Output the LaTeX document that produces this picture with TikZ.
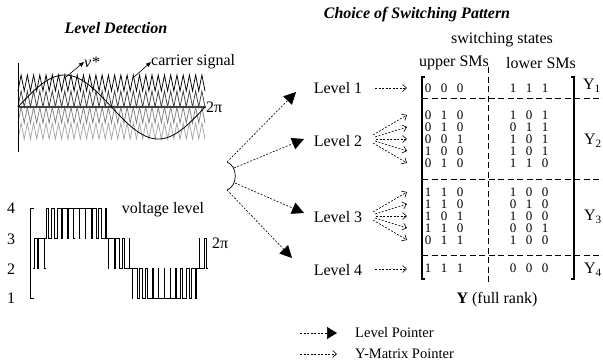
\documentclass[tikz,border=0pt]{standalone}
\usepackage{fontspec}
\setmainfont{Liberation Serif}
\usetikzlibrary{arrows.meta}
\begin{document}
\begin{tikzpicture}[x=1pt,y=-1pt,
  lbl/.style={font=\fontsize{16}{18}\selectfont, inner sep=0pt},
  ttl/.style={font=\fontsize{16}{18}\selectfont\bfseries\itshape, inner sep=0pt},
  leg/.style={font=\fontsize{14.5}{16}\selectfont, inner sep=0pt, anchor=west},
  dig/.style={font=\fontsize{13}{14}\selectfont, inner sep=0pt},
  lvlptr/.style={dash pattern=on 2pt off 1.5pt, line width=0.6pt, -{Triangle[length=12pt,width=12pt]}},
  ymptr/.style={dash pattern=on 2pt off 1.5pt, line width=0.6pt, -{Straight Barb[length=4pt,width=7pt]}},
  mdash/.style={dash pattern=on 6pt off 3.5pt, line width=1pt},
  brk/.style={line width=1.3pt},
  wave/.style={line width=0.9pt, line join=miter},
  carrier/.style={line width=0.75pt},
  small arrow/.style={line width=0.6pt, -{Triangle[length=5pt,width=4pt]}}
]
\useasboundingbox (0,0) rectangle (603,364);

% ---------- titles ----------
\node[ttl] (t1) at (116,28) {Level Detection};
\node[ttl] (t2) at (417,15) {Choice of Switching Pattern};

% ---------- top waveform: carriers ----------
\draw[carrier, black] (18,91) \foreach \i in {1,...,30}{ -- ++(3.1167,-16) -- ++(3.1167,16)};
\draw[carrier, black!75] (18,107) \foreach \i in {1,...,30}{ -- ++(3.1167,-16) -- ++(3.1167,16)};
\draw[carrier, black!50] (18,123) \foreach \i in {1,...,30}{ -- ++(3.1167,-16) -- ++(3.1167,16)};
\draw[carrier, black!35] (18,139) \foreach \i in {1,...,30}{ -- ++(3.1167,-16) -- ++(3.1167,16)};
% axes
\coordinate (vaxT) at (18,63);
\coordinate (vaxB) at (18,152);
\draw[line width=1pt] (vaxT) -- (vaxB);
\coordinate (haxL) at (18,107);
\node[lbl, anchor=west] (tpi) at (206,107) {2π};
\draw[black!75, line width=1.3pt] (haxL) -- (tpi.west);
% sine
\draw[line width=0.8pt] plot[domain=0:360, samples=120] ({18+\x/360*187},{107-32*sin(\x)});
% annotations
\node[lbl, anchor=west] (vstar) at (84,62) {\textit{v*}};
\coordinate (vsA) at (66,77);
\draw[small arrow] (vsA) -- (vstar.west);
\node[lbl, anchor=west] (carr) at (151,62) {carrier signal};
\coordinate (csA) at (134,77);
\draw[small arrow] (csA) -- (carr.west);

% ---------- bottom waveform ----------
\node[lbl] (n4) at (11,208) {4};
\node[lbl] (n3) at (11,239) {3};
\node[lbl] (n2) at (11,269) {2};
\node[lbl] (n1) at (11,298) {1};
\coordinate (bkT) at (30,208);
\coordinate (bkB) at (30,298);
\draw[line width=1pt] ([xshift=4pt]bkT) -- (bkT) -- (bkB) -- ([xshift=4pt]bkB);
\foreach \k in {0,...,29}{
  \pgfmathsetmacro\rv{2.5+1.5*sin(12*(\k+0.5))}
  \pgfmathtruncatemacro\lv{min(floor(\rv),3)}
  \pgfmathsetmacro\rvp{2.5+1.5*sin(12*(\k-0.5))}
  \pgfmathtruncatemacro\lvp{\k==0 ? \lv : min(floor(\rvp),3)}
  \pgfmathsetmacro\pw{(\rv-\lv)*5.8333}
  \pgfmathsetmacro\xa{33+\k*5.8333}
  \pgfmathsetmacro\xc{\xa+2.91667}
  \pgfmathsetmacro\yl{298-30*(\lv-1)}
  \pgfmathsetmacro\yh{\yl-30}
  \pgfmathsetmacro\yp{298-30*(\lvp-1)}
  \draw[wave] (\xa,\yp) -- (\xa,\yl) -- ({\xc-\pw/2},\yl) -- ({\xc-\pw/2},\yh)
     -- ({\xc+\pw/2},\yh) -- ({\xc+\pw/2},\yl) -- ({\xa+5.8333},\yl);
}
\node[lbl] (vl) at (163,210) {voltage level};
\node[lbl, anchor=west] (tpi2) at (212,243) {2π};

% ---------- level pointers ----------
\coordinate (a1) at (227,162);
\coordinate (a2) at (234,168);
\coordinate (a3) at (235,183);
\coordinate (a4) at (227,190);
\draw[line width=0.7pt] (a1) .. controls (238,166) and (238,186) .. (a4);
\coordinate (e1) at (296,92);
\coordinate (e2) at (304,139);
\coordinate (e3) at (304,213);
\coordinate (e4) at (292,258);
\draw[lvlptr] (a1) -- (e1);
\draw[lvlptr] (a2) -- (e2);
\draw[lvlptr] (a3) -- (e3);
\draw[lvlptr] (a4) -- (e4);

\node[lbl] (lv1) at (338,88) {Level 1};
\node[lbl] (lv2) at (338,141) {Level 2};
\node[lbl] (lv3) at (338,217) {Level 3};
\node[lbl] (lv4) at (338,270) {Level 4};

% ---------- Y-matrix pointers ----------
\coordinate (s1) at (375,88);  \coordinate (f1) at (407,88);
\draw[ymptr] (s1) -- (f1);
\coordinate (s4) at (375,269); \coordinate (f4) at (407,269);
\draw[ymptr] (s4) -- (f4);
\foreach \yy/\off/\dx in {-24/-4/0,-12/-2/2,0/0/3,12/2/2,24/4/0}{
  \draw[ymptr] ({373+\dx},{139+\off}) -- (407,{139+\yy});
  \draw[ymptr] ({373+\dx},{216+\off}) -- (407,{216+\yy});
}

% ---------- matrix ----------
\node[lbl] (ss) at (502,40) {switching states};
\node[lbl] (up) at (454,63) {upper SMs};
\node[lbl] (lo) at (541,63) {lower SMs};
\coordinate (lbT) at (422,77); \coordinate (lbB) at (422,279);
\coordinate (rbT) at (574,77); \coordinate (rbB) at (574,279);
\draw[brk] ([xshift=3pt]lbT) -- (lbT) -- (lbB) -- ([xshift=3pt]lbB);
\draw[brk] ([xshift=-3pt]rbT) -- (rbT) -- (rbB) -- ([xshift=-3pt]rbB);
\coordinate (vdT) at (488,67); \coordinate (vdB) at (488,284);
\draw[mdash] (vdT) -- (vdB);
\foreach \yy in {98,179,255}{
  \draw[mdash] (422,\yy) -- (603,\yy);
}
\foreach \yy/\da/\db/\dc/\dd/\de/\df in {88/0/0/0/1/1/1,
  115/0/1/0/1/0/1, 127/0/1/0/0/1/1, 139/0/0/1/1/0/1, 151/1/0/0/1/0/1, 163/0/1/0/1/1/0,
  192/1/1/0/1/0/0, 204/1/1/0/0/1/0, 216/1/0/1/1/0/0, 228/1/1/0/0/0/1, 240/0/1/1/1/0/0,
  268/1/1/1/0/0/0}{
  \node[dig] at (428,\yy) {\da};
  \node[dig] at (444,\yy) {\db};
  \node[dig] at (460,\yy) {\dc};
  \node[dig] at (513,\yy) {\dd};
  \node[dig] at (529,\yy) {\de};
  \node[dig] at (545,\yy) {\df};
}
\node[lbl] (y1) at (592,86) {Y\textsubscript{1}};
\node[lbl] (y2) at (593,141) {Y\textsubscript{2}};
\node[lbl] (y3) at (593,217) {Y\textsubscript{3}};
\node[lbl] (y4) at (593,270) {Y\textsubscript{4}};
\node[lbl] (fr) at (497,300) {\textbf{Y} (full rank)};

% ---------- legend ----------
\coordinate (l1s) at (300,333); \coordinate (l1e) at (337,333);
\draw[dash pattern=on 2pt off 1.5pt, line width=0.6pt, -{Triangle[length=10pt,width=12pt]}] (l1s) -- (l1e);
\node[leg] (lt1) at (355,333) {Level Pointer};
\coordinate (l2s) at (300,354); \coordinate (l2e) at (337,354);
\draw[ymptr] (l2s) -- (l2e);
\node[leg] (lt2) at (355,354) {Y-Matrix Pointer};
\end{tikzpicture}
\end{document}
